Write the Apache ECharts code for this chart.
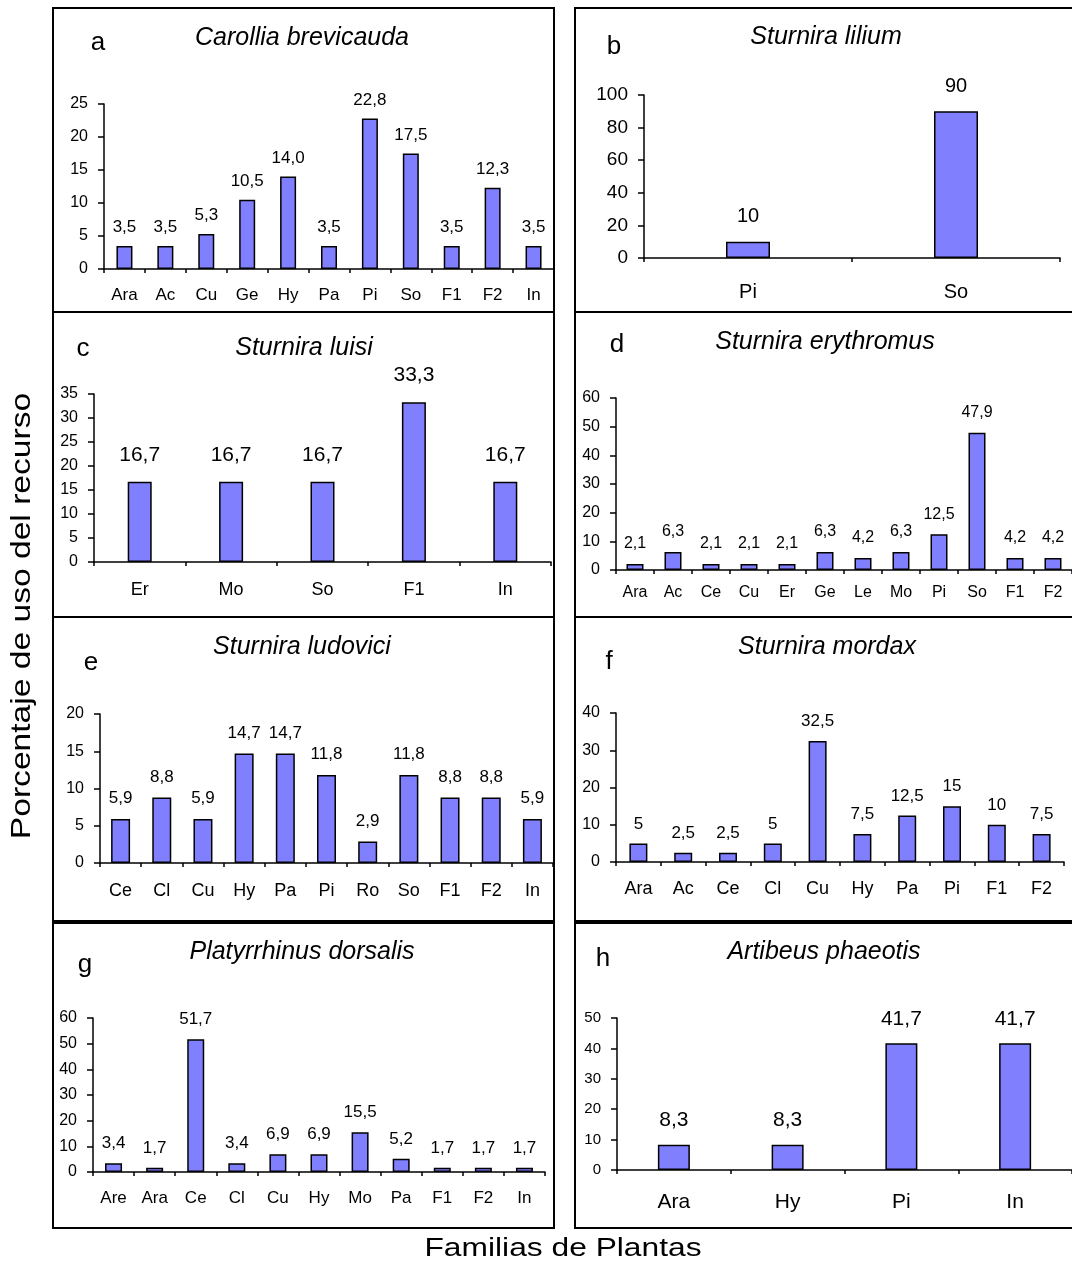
<!DOCTYPE html>
<html>
<head>
<meta charset="utf-8">
<script src="https://cdn.jsdelivr.net/npm/echarts@6/dist/echarts.min.js"></script>
<style>
  html, body { margin: 0; padding: 0; background: #fff; }
  #chart { width: 1072px; height: 1262px; }
</style>
</head>
<body>
<div id="chart"></div>
<script>
// Percentage of resource use by plant family, one panel per bat species
const catsA = ['Ara', 'Ac', 'Cu', 'Ge', 'Hy', 'Pa', 'Pi', 'So', 'F1', 'F2', 'In'];
const valsA = [3.5, 3.5, 5.3, 10.5, 14.0, 3.5, 22.8, 17.5, 3.5, 12.3, 3.5];

const catsB = ['Pi', 'So'];
const valsB = [10, 90];

const catsC = ['Er', 'Mo', 'So', 'F1', 'In'];
const valsC = [16.7, 16.7, 16.7, 33.3, 16.7];

const catsD = ['Ara', 'Ac', 'Ce', 'Cu', 'Er', 'Ge', 'Le', 'Mo', 'Pi', 'So', 'F1', 'F2'];
const valsD = [2.1, 6.3, 2.1, 2.1, 2.1, 6.3, 4.2, 6.3, 12.5, 47.9, 4.2, 4.2];

const catsE = ['Ce', 'Cl', 'Cu', 'Hy', 'Pa', 'Pi', 'Ro', 'So', 'F1', 'F2', 'In'];
const valsE = [5.9, 8.8, 5.9, 14.7, 14.7, 11.8, 2.9, 11.8, 8.8, 8.8, 5.9];

const catsF = ['Ara', 'Ac', 'Ce', 'Cl', 'Cu', 'Hy', 'Pa', 'Pi', 'F1', 'F2'];
const valsF = [5, 2.5, 2.5, 5, 32.5, 7.5, 12.5, 15, 10, 7.5];

const catsG = ['Are', 'Ara', 'Ce', 'Cl', 'Cu', 'Hy', 'Mo', 'Pa', 'F1', 'F2', 'In'];
const valsG = [3.4, 1.7, 51.7, 3.4, 6.9, 6.9, 15.5, 5.2, 1.7, 1.7, 1.7];

const catsH = ['Ara', 'Hy', 'Pi', 'In'];
const valsH = [8.3, 8.3, 41.7, 41.7];

const speciesNames = ['Carollia brevicauda', 'Sturnira lilium', 'Sturnira luisi', 'Sturnira erythromus',
                      'Sturnira ludovici', 'Sturnira mordax', 'Platyrrhinus dorsalis', 'Artibeus phaeotis'];
const panelLetters = ['a', 'b', 'c', 'd', 'e', 'f', 'g', 'h'];
const yMax = [25, 100, 35, 60, 20, 40, 60, 50];
const yStep = [5, 20, 5, 10, 5, 10, 10, 10];
const labelDecimals = [1, null, null, null, null, null, null, null];

const yAxisTitle = 'Porcentaje de uso del recurso';
const xAxisTitle = 'Familias de Plantas';

const allCats = [catsA, catsB, catsC, catsD, catsE, catsF, catsG, catsH];
const allVals = [valsA, valsB, valsC, valsD, valsE, valsF, valsG, valsH];

// Panel geometry and type sizes
const FONT = '"Liberation Sans", Arial, Helvetica, sans-serif';
const layout = [
  { grid: [104, 104, 450, 165], bar: 16, tick: 16, cat: 17, val: 17, valGap: 10, catGap: 18, box: [53, 8, 501, 304],   title: [302, 38],  letter: [98, 43] },
  { grid: [644, 95, 416, 163],  bar: 44, tick: 19, cat: 20, val: 20, valGap: 15, catGap: 24, box: [575, 8, 500, 304],  title: [826, 37],  letter: [614, 47] },
  { grid: [94, 394, 457, 168],  bar: 24, tick: 16, cat: 18, val: 21, valGap: 16, catGap: 19, box: [53, 312, 501, 305], title: [304, 348], letter: [83, 349] },
  { grid: [616, 398, 464, 172], bar: 17, tick: 16, cat: 16, val: 16, valGap: 12, catGap: 15, box: [575, 312, 500, 305], title: [825, 342], letter: [617, 345] },
  { grid: [100, 714, 453, 149], bar: 19, tick: 16, cat: 18, val: 17, valGap: 12, catGap: 19, box: [53, 617, 501, 304], title: [302, 647], letter: [91, 663] },
  { grid: [616, 713, 448, 149], bar: 18, tick: 16, cat: 18, val: 17, valGap: 11, catGap: 18, box: [575, 617, 500, 304], title: [827, 647], letter: [609, 662] },
  { grid: [93, 1018, 452, 154], bar: 17, tick: 16, cat: 17, val: 17, valGap: 11, catGap: 18, box: [53, 923, 501, 305], title: [302, 952], letter: [85, 965] },
  { grid: [617, 1018, 461, 152], bar: 32, tick: 15, cat: 21, val: 21, valGap: 14, catGap: 22, box: [575, 923, 500, 305], title: [824, 952], letter: [603, 959] }
];

function fmtValue(v, decimals) {
  const s = decimals == null ? String(v) : v.toFixed(decimals);
  return s.replace('.', ',');
}

const grids = [], xAxes = [], yAxes = [], series = [], graphics = [];

layout.forEach((L, i) => {
  grids.push({ left: L.grid[0], top: L.grid[1], width: L.grid[2], height: L.grid[3], containLabel: false });

  xAxes.push({
    type: 'category', gridIndex: i, data: allCats[i],
    axisLine: { lineStyle: { color: '#000', width: 1.5 } },
    axisTick: { show: true, length: 4, lineStyle: { color: '#000', width: 1.5 } },
    axisLabel: { color: '#000', fontSize: L.cat, fontFamily: FONT, margin: L.catGap, interval: 0 },
    splitLine: { show: false }
  });

  yAxes.push({
    type: 'value', gridIndex: i, min: 0, max: yMax[i], interval: yStep[i],
    axisLine: { show: true, lineStyle: { color: '#000', width: 1.5 } },
    axisTick: { show: true, length: 6, lineStyle: { color: '#000', width: 1.5 } },
    axisLabel: { color: '#000', fontSize: L.tick, fontFamily: FONT, margin: 16 },
    splitLine: { show: false }
  });

  series.push({
    type: 'bar', xAxisIndex: i, yAxisIndex: i, data: allVals[i],
    barWidth: L.bar, silent: true,
    itemStyle: { color: '#8080ff', borderColor: '#000', borderWidth: 1.5 },
    label: {
      show: true, position: 'top', distance: L.valGap,
      color: '#000', fontSize: L.val, fontFamily: FONT,
      formatter: p => fmtValue(p.value, labelDecimals[i])
    }
  });

  // panel frame
  graphics.push({
    type: 'rect', silent: true, z: 10,
    shape: { x: L.box[0], y: L.box[1], width: L.box[2], height: L.box[3] },
    style: { fill: 'none', stroke: '#000', lineWidth: 2 }
  });
  // species name
  graphics.push({
    type: 'text', silent: true, x: L.title[0], y: L.title[1],
    style: { text: speciesNames[i], font: 'italic 25px ' + FONT, fill: '#000', align: 'center', verticalAlign: 'middle' }
  });
  // panel letter
  graphics.push({
    type: 'text', silent: true, x: L.letter[0], y: L.letter[1],
    style: { text: panelLetters[i], font: '26px ' + FONT, fill: '#000', align: 'center', verticalAlign: 'middle' }
  });
});

// shared axis titles
graphics.push({
  type: 'text', silent: true, x: 22, y: 616, rotation: Math.PI / 2, scaleX: 1.2,
  style: { text: yAxisTitle, font: '28px ' + FONT, fill: '#000', align: 'center', verticalAlign: 'middle' }
});
graphics.push({
  type: 'text', silent: true, x: 563, y: 1249, scaleX: 1.27,
  style: { text: xAxisTitle, font: '25px ' + FONT, fill: '#000', align: 'center', verticalAlign: 'middle' }
});

const chart = echarts.init(document.getElementById('chart'), null, { renderer: 'canvas' });
chart.setOption({
  animation: false,
  backgroundColor: '#fff',
  grid: grids,
  xAxis: xAxes,
  yAxis: yAxes,
  series: series,
  graphic: graphics
});
</script>
</body>
</html>
